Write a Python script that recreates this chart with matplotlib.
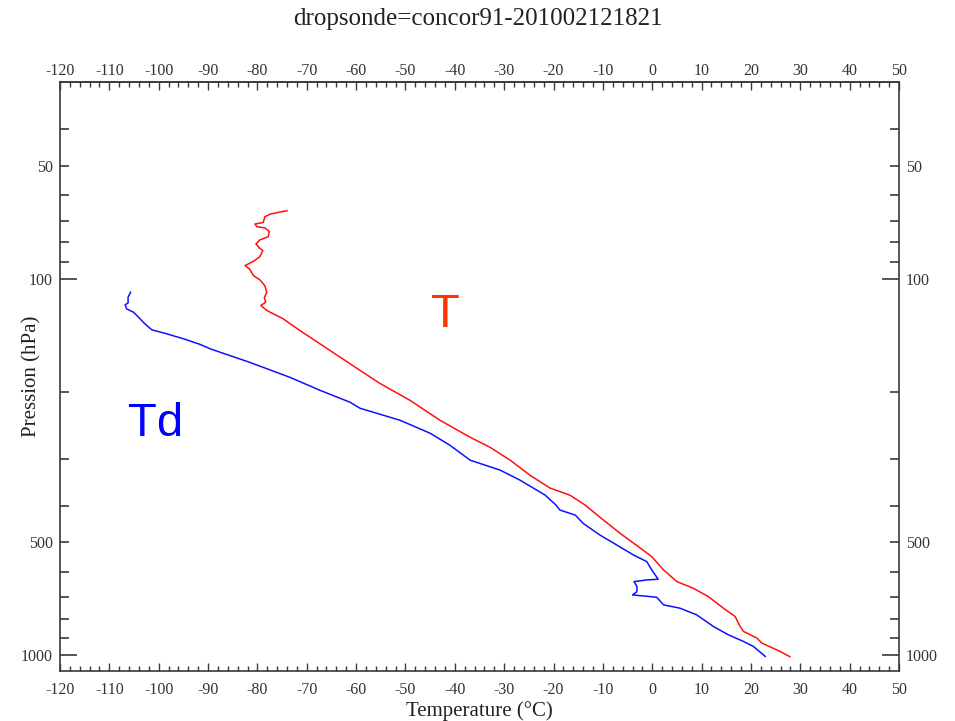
import numpy as np
import matplotlib.pyplot as plt
from matplotlib.ticker import FixedLocator, FuncFormatter, MultipleLocator

# Temperature profile (T, red)
t_temp = [-74.0, -75.8, -77.4, -78.5, -78.8, -80.5, -80.1, -78.5, -77.6, -77.8,
          -79.5, -80.3, -79.6, -78.9, -79.5, -80.8, -82.5, -81.6, -80.8, -79.5,
          -78.5, -78.1, -78.6, -78.3, -79.3, -78.1, -74.8, -71.4, -65.3, -59.2,
          -55.2, -49.1, -43.0, -36.9, -32.9, -28.8, -24.8, -20.7, -16.7, -13.6,
          -9.9, -6.5, -2.8, -0.1, 2.3, 5.0, 8.3, 11.4, 14.4, 16.8,
          17.8, 18.5, 21.2, 22.2, 25.9, 27.9]
t_pres = [65.9, 66.6, 67.3, 68.4, 70.8, 71.5, 72.7, 73.2, 74.8, 77.3,
          78.8, 80.8, 82.8, 84.1, 87.3, 89.8, 92.2, 94.1, 98.0, 100.6,
          104.2, 108.5, 112.3, 115.3, 117.7, 121.3, 127.6, 137.1, 154.9, 175.0,
          189.4, 210.1, 237.4, 263.4, 279.9, 303.0, 332.0, 359.4, 375.2, 398.7,
          436.9, 474.0, 514.3, 546.6, 592.9, 636.8, 663.0, 698.0, 748.9, 788.3,
          837.7, 863.6, 899.0, 927.0, 975.9, 1008.0]

# Dew point profile (Td, blue)
td_temp = [-105.7, -106.2, -106.2, -106.8, -106.5, -105.1, -104.1, -102.8, -101.4, -98.4,
           -95.0, -91.6, -89.6, -81.5, -73.4, -67.3, -61.2, -59.2, -51.1, -45.0,
           -41.0, -36.9, -30.8, -26.8, -21.7, -19.5, -18.7, -15.6, -14.0, -10.6,
           -7.2, -3.8, -1.1, -0.1, 1.2, -1.1, -3.7, -3.1, -3.1, -4.0,
           0.9, 2.3, 5.6, 9.0, 12.4, 15.4, 18.5, 20.5, 22.9]
td_pres = [108.5, 111.9, 115.8, 117.2, 120.1, 122.6, 126.4, 131.6, 136.5, 139.9,
           144.2, 149.3, 153.3, 166.7, 182.6, 197.7, 212.7, 220.6, 237.4, 257.0,
           276.5, 303.0, 322.1, 342.3, 375.2, 398.7, 411.1, 423.9, 445.9, 478.9,
           508.9, 541.0, 563.6, 592.9, 627.6, 630.2, 636.8, 656.6, 676.9, 690.7,
           700.5, 734.1, 748.9, 780.2, 837.7, 881.2, 918.2, 946.6, 1006.0]

title = "dropsonde=concor91-201002121821"
p_major = [100, 1000]
p_minor = [40, 50, 60, 70, 80, 90, 200, 300, 400, 500, 600, 700, 800, 900]
p_labels = [50, 100, 500, 1000]


def style_x(axis, axc, pad):
    axis.xaxis.set_major_locator(MultipleLocator(10))
    axis.xaxis.set_minor_locator(MultipleLocator(2))
    axis.xaxis.set_major_formatter(FuncFormatter(lambda v, pos: '%d' % v))
    axis.tick_params(axis='x', which='both', direction='in', colors=axc,
                     labelcolor='#333333')
    axis.tick_params(axis='x', which='major', length=6.0, width=1.0, pad=pad)
    axis.tick_params(axis='x', which='minor', length=3.5, width=1.0)


def main():
    serif = 'Liberation Serif'
    axc = '#3a3a3a'
    fig = plt.figure(figsize=(9.55, 7.21), dpi=100)
    ax = fig.add_axes([0.0628, 0.0693, 0.8786, 0.817])

    ax.plot(t_temp, t_pres, color='#ff1010', lw=1.1)
    ax.plot(td_temp, td_pres, color='#1010ff', lw=1.1)

    ax.set_yscale('log')
    ax.set_xlim(-120, 50)
    ax.set_ylim(1100, 30)

    style_x(ax, axc, 8)
    ax.tick_params(axis='x', which='both', top=False, labeltop=False)
    top = ax.secondary_xaxis('top')
    style_x(top, axc, 2)
    top.spines['top'].set_color(axc)
    top.spines['top'].set_linewidth(1.2)

    ax.yaxis.set_major_locator(FixedLocator(p_major))
    ax.yaxis.set_minor_locator(FixedLocator(p_minor))
    fmt = FuncFormatter(lambda v, pos: '%d' % v if round(v) in p_labels else '')
    ax.yaxis.set_major_formatter(fmt)
    ax.yaxis.set_minor_formatter(fmt)
    ax.tick_params(axis='y', which='both', direction='in', left=True, right=True,
                   labelright=True, colors=axc, labelcolor='#333333', pad=5)
    ax.tick_params(axis='y', which='major', length=12.5, width=1.2)
    ax.tick_params(axis='y', which='minor', length=6.5, width=1.2)

    for lab in (ax.get_xticklabels() + top.get_xticklabels()
                + ax.get_yticklabels(which='both')):
        lab.set_fontfamily(serif)
        lab.set_fontsize(11.5)

    for s in ax.spines.values():
        s.set_color(axc)
        s.set_linewidth(1.2)

    ax.text(-42, 125, 'T', color='#ff3300', fontsize=34, ha='center', va='center',
            family='Liberation Sans')
    ax.text(-100.7, 243, 'Td', color='#0000ff', fontsize=34, ha='center', va='center',
            family='Liberation Sans')

    fig.text(0.500, 0.973, title, ha='center', va='center', family=serif,
             fontsize=18, color='#222222')
    ax.set_xlabel('Temperature (\u00b0C)', family=serif, fontsize=15,
                  color='#222222', va='center')
    ax.xaxis.set_label_coords(0.5, -0.068)
    ax.set_ylabel('Pression (hPa)', family=serif, fontsize=15,
                  color='#222222', va='center')
    ax.yaxis.set_label_coords(-0.034, 0.5)

    fig.savefig('out.png', dpi=100, facecolor='white')


if __name__ == "__main__":
    main()
